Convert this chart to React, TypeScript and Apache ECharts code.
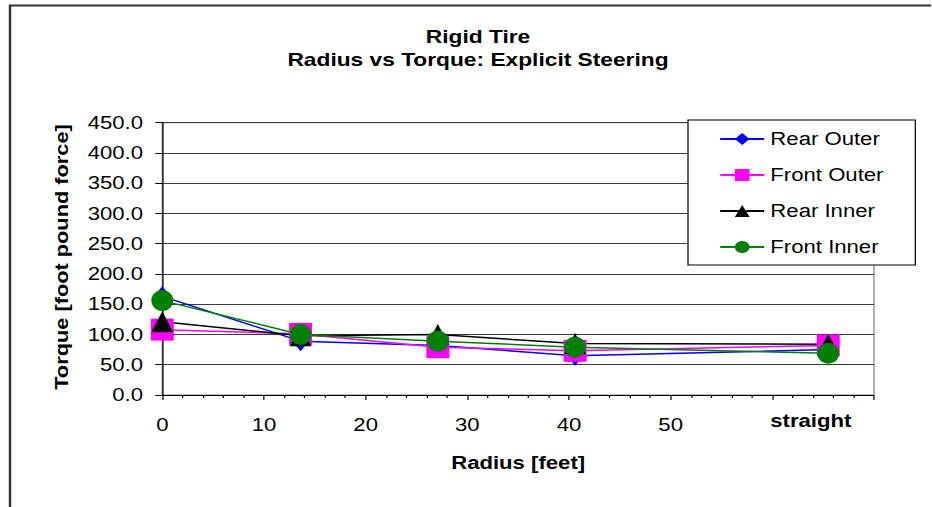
import React, { useEffect, useRef } from "react";
import * as echarts from "echarts";

// ---- data ----
const radius = [0, 13.6, 27.1, 40.6, 65.5];
const rearOuter = [163, 89, 82, 65, 75];
const frontOuter = [108, 101, 79, 73, 82];
const rearInner = [121, 98, 100, 85, 84];
const frontInner = [156, 100, 89, 79, 69];
const seriesNames = ["Rear Outer", "Front Outer", "Rear Inner", "Front Inner"];
const xMaxLabel = 50;
const straightLabel = "straight";
const titleLines = ["Rigid Tire", "Radius vs Torque: Explicit Steering"];
const xName = "Radius [feet]";
const yName = "Torque [foot pound force]";

// horizontal stretch of the whole picture (the reference's text is wide)
const S = 1.23;
const W = 757;
const H = 507;
const FONT = "'Liberation Sans', Arial, sans-serif";

export default function App() {
  const ref = useRef<HTMLDivElement>(null);

  useEffect(() => {
    if (!ref.current) return;
    document.body.style.overflow = "hidden";
    const chart = echarts.init(ref.current, undefined, { renderer: "svg" });

    const mk = (
      name: string,
      vals: number[],
      color: string,
      symbol: string,
      size: [number, number]
    ) => ({
      name,
      type: "line",
      data: radius.map((x, i) => [x, vals[i]]),
      symbol,
      symbolSize: size,
      showAllSymbol: true,
      itemStyle: { color, borderWidth: 0 },
      lineStyle: { color, width: 1.5 },
      emphasis: { disabled: true },
    });

    chart.setOption({
      animation: false,
      backgroundColor: "#fff",
      title: {
        text: titleLines.join("\n"),
        left: 478 / S,
        top: 24.5,
        padding: 0,
        textAlign: "center",
        textStyle: {
          fontFamily: FONT,
          fontSize: 18.5,
          fontWeight: "bold",
          color: "#000",
          lineHeight: 23.5,
        },
      },
      legend: {
        orient: "vertical",
        left: 688 / S,
        top: 120,
        padding: [10, 25.8, 9, 25.2],
        itemWidth: 44 / S,
        itemHeight: 15,
        itemGap: 18,
        borderColor: "#000",
        borderWidth: 1,
        backgroundColor: "#fff",
        selectedMode: false,
        data: seriesNames,
        textStyle: {
          fontFamily: FONT,
          fontSize: 18,
          color: "#000",
          lineHeight: 18,
        },
      },
      grid: {
        left: 162.3 / S,
        right: W - 874 / S,
        top: 122.7,
        bottom: H - 395,
        show: true,
        borderColor: "#808080",
        borderWidth: 1,
        backgroundColor: "transparent",
        containLabel: false,
        outerBoundsMode: "none",
      },
      xAxis: {
        type: "value",
        min: 0,
        max: 70,
        interval: 10,
        name: xName,
        nameLocation: "middle",
        nameGap: 58.5,
        nameTextStyle: {
          fontFamily: FONT,
          fontSize: 18,
          fontWeight: "bold",
          color: "#000",
        },
        axisLine: { show: true, onZero: false, lineStyle: { color: "#000", width: 1 } },
        axisTick: { show: true, length: 5, lineStyle: { color: "#000" } },
        minorTick: { show: true, splitNumber: 5, length: 3, lineStyle: { color: "#000" } },
        splitLine: { show: false },
        axisLabel: {
          margin: 21,
          fontFamily: FONT,
          fontSize: 18,
          color: "#000",
          showMaxLabel: true,
          formatter: (v: number) => (v <= xMaxLabel ? String(v) : ""),
        },
      },
      yAxis: {
        type: "value",
        min: 0,
        max: 450,
        interval: 50,
        axisLine: { show: true, lineStyle: { color: "#000", width: 1 } },
        axisTick: { show: true, length: 7 / S, lineStyle: { color: "#000" } },
        splitLine: { show: true, lineStyle: { color: "#3a3a3a", width: 1 } },
        axisLabel: {
          margin: 19.3 / S,
          fontFamily: FONT,
          fontSize: 18,
          color: "#000",
          formatter: (v: number) => v.toFixed(1),
        },
      },
      graphic: [
        {
          type: "rect",
          silent: true,
          shape: { x: 10 / S, y: 5.5, width: 1200, height: 1200 },
          style: { fill: "none", stroke: "#333", lineWidth: 2 },
          z: -1,
        },
        {
          type: "text",
          silent: true,
          x: 810.8 / S,
          y: 421,
          style: {
            text: straightLabel,
            fontFamily: FONT,
            fontSize: 18,
            fontWeight: "bold",
            fill: "#000",
            align: "center",
            verticalAlign: "middle",
          },
        },
        {
          type: "text",
          silent: true,
          x: 61.7 / S,
          y: 257,
          rotation: Math.PI / 2,
          scaleX: 1.21,
          scaleY: 1 / S,
          style: {
            text: yName,
            fontFamily: FONT,
            fontSize: 18,
            fontWeight: "bold",
            fill: "#000",
            align: "center",
            verticalAlign: "middle",
          },
        },
      ],
      series: [
        mk(seriesNames[0], rearOuter, "#0000FF", "diamond", [17 / S, 20]),
        mk(seriesNames[1], frontOuter, "#FF00FF", "rect", [23 / S, 22]),
        mk(seriesNames[2], rearInner, "#000000", "triangle", [22 / S, 21]),
        mk(seriesNames[3], frontInner, "#008000", "circle", [22 / S, 21]),
      ],
    });

    return () => {
      chart.dispose();
    };
  }, []);

  return (
    <div
      ref={ref}
      style={{
        position: "absolute",
        left: 0,
        top: 0,
        width: W,
        height: H,
        transform: `scaleX(${S})`,
        transformOrigin: "0 0",
      }}
    />
  );
}
